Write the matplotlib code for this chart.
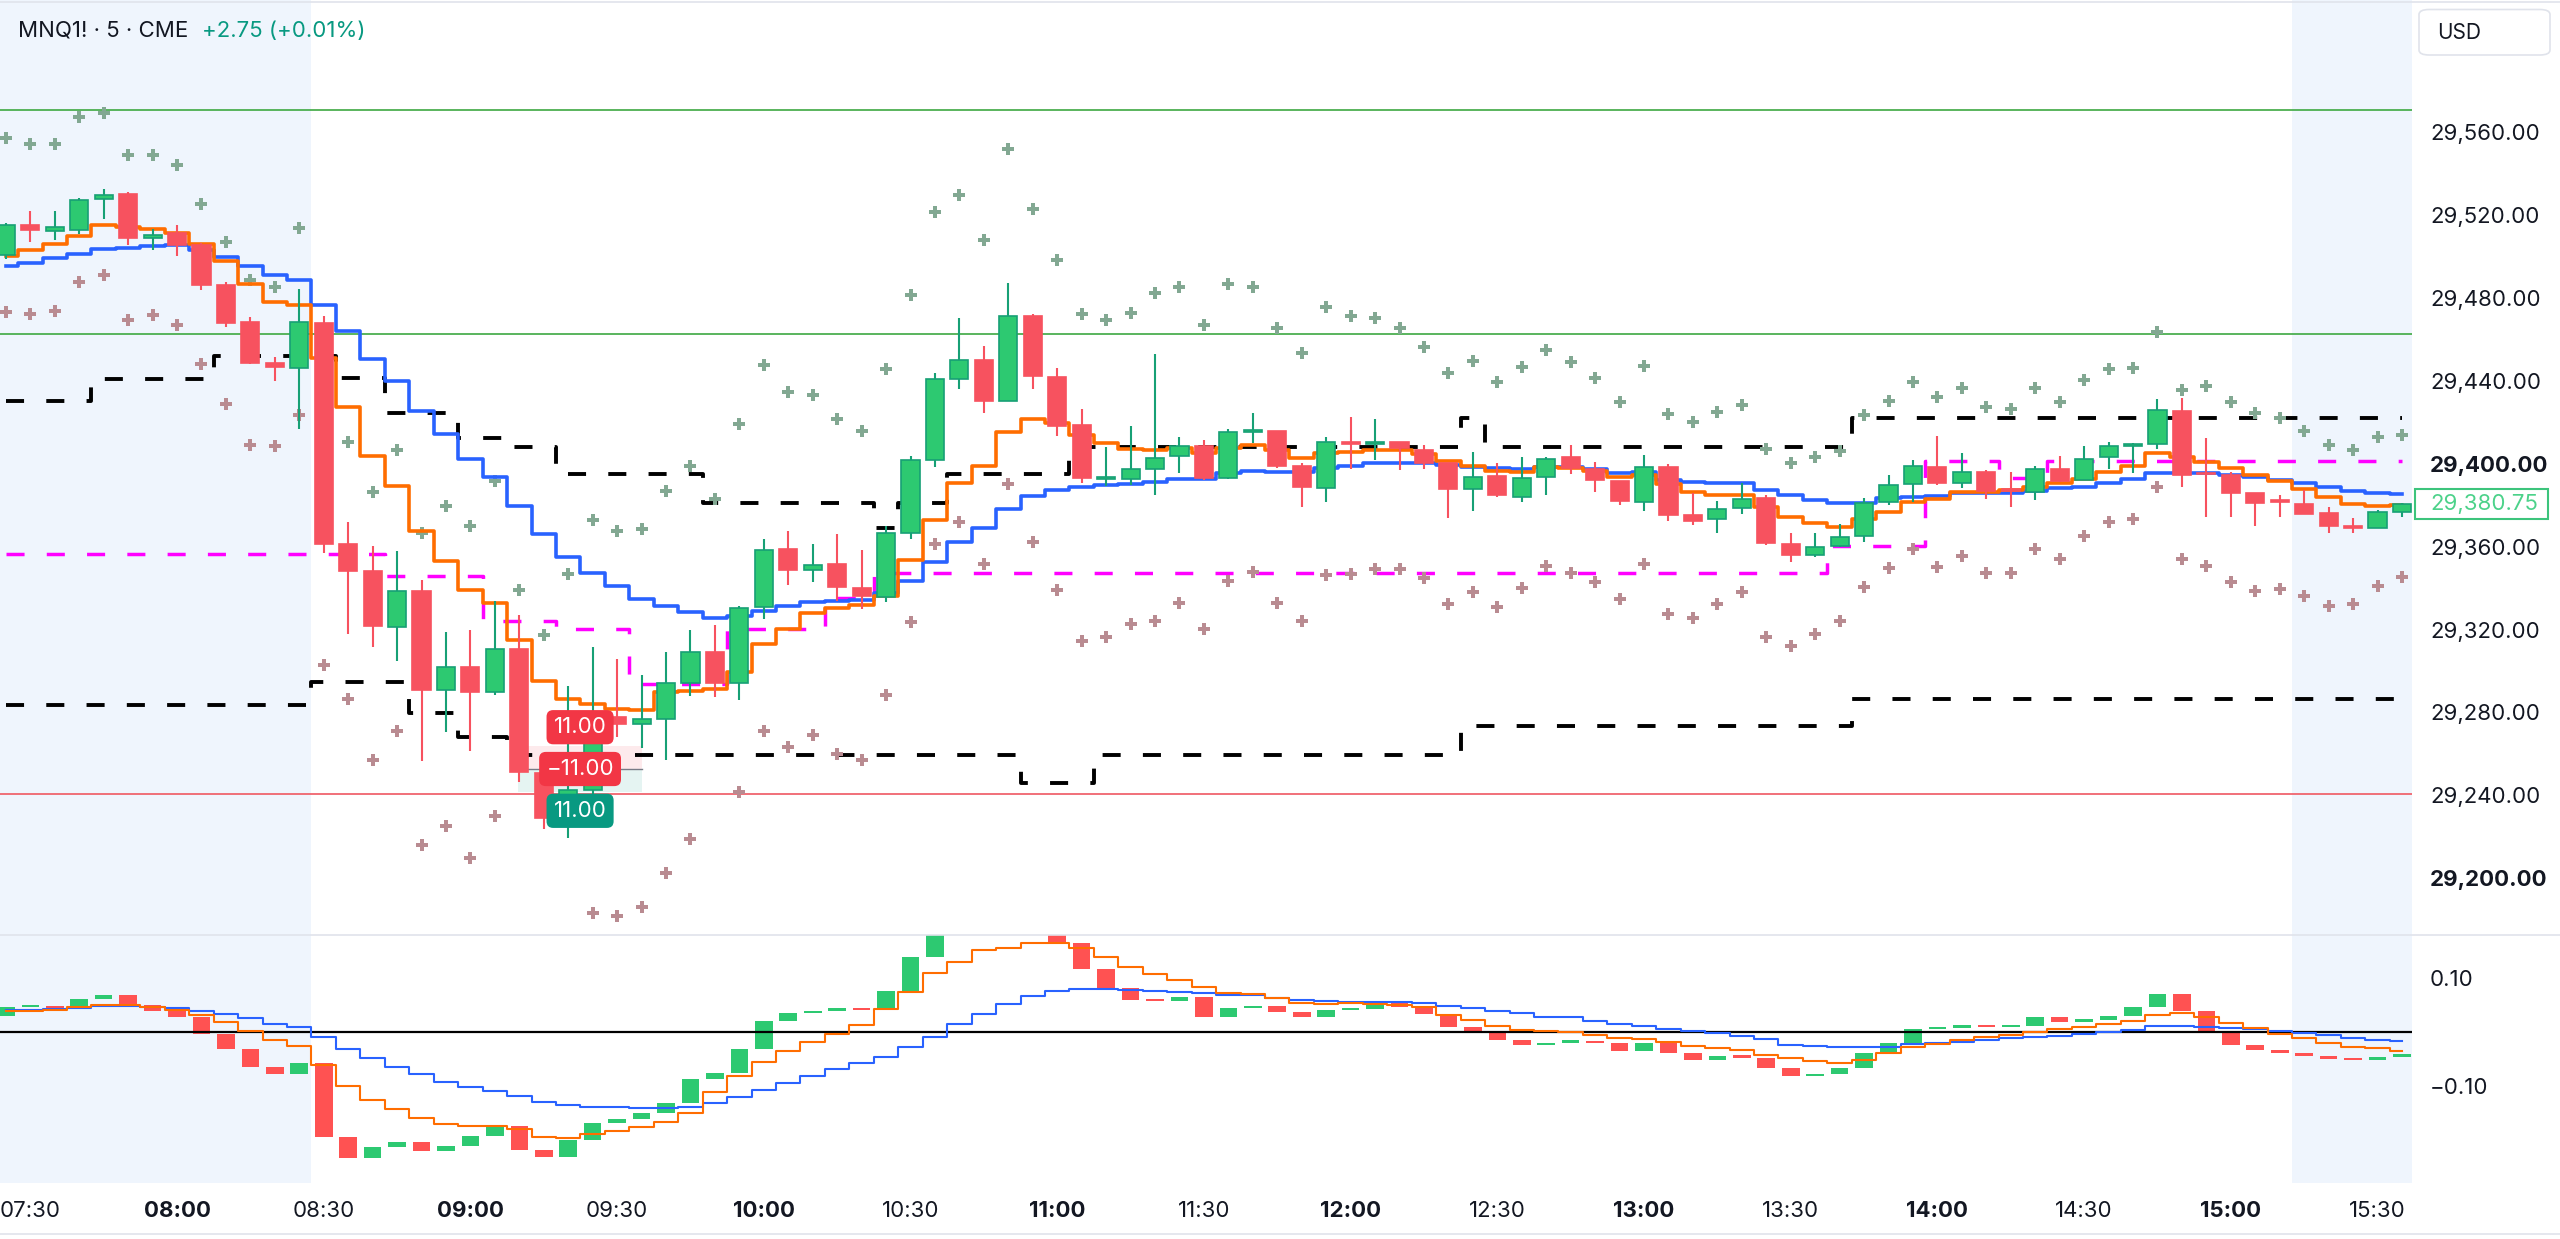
import numpy as np
import matplotlib
matplotlib.use("Agg")
import matplotlib.pyplot as plt
from matplotlib.patches import Rectangle, FancyBboxPatch
from matplotlib.lines import Line2D

plt.rcParams['font.family'] = ['Inter', 'DejaVu Sans']
plt.rcParams['lines.scale_dashes'] = False

# 5 minute bars, index 0 = 07:30 (first visible bar is 07:25)
bars = np.arange(-1, 98)

opens = [29500.4, 29514.9, 29512.4, 29512.7, 29527.4, 29529.9, 29509.0, 29511.2, 29505.3, 29486.3,
         29468.1, 29448.5, 29446.0, 29467.6, 29361.3, 29348.1, 29321.2, 29338.5, 29291.0, 29302.0,
         29289.7, 29310.6, 29251.0, 29229.0, 29242.7, 29278.0, 29274.6, 29277.1, 29294.4, 29309.0,
         29294.4, 29330.9, 29359.0, 29348.9, 29351.6, 29340.1, 29335.5, 29366.6, 29401.9, 29440.9,
         29450.1, 29430.1, 29471.1, 29441.6, 29418.5, 29392.7, 29392.7, 29397.3, 29403.5, 29408.6,
         29393.2, 29415.3, 29415.8, 29399.0, 29388.5, 29410.6, 29409.5, 29410.6, 29406.6, 29400.2,
         29388.0, 29394.2, 29384.1, 29393.4, 29403.1, 29397.3, 29391.8, 29381.7, 29398.6, 29375.3,
         29373.2, 29378.8, 29383.3, 29361.3, 29356.0, 29360.3, 29365.1, 29381.7, 29390.1, 29398.6,
         29390.5, 29396.2, 29387.3, 29386.5, 29397.3, 29392.1, 29403.1, 29408.5, 29409.5, 29425.4,
         29395.0, 29394.5, 29386.0, 29381.7, 29380.4, 29376.1, 29370.0, 29369.2, 29376.6]
highs = [29516.1, 29521.8, 29521.8, 29527.9, 29532.6, 29531.1, 29513.2, 29514.9, 29506.3, 29487.8,
         29470.6, 29451.6, 29484.1, 29471.3, 29371.7, 29360.1, 29358.1, 29343.9, 29318.8, 29320.0,
         29334.0, 29327.2, 29252.5, 29292.8, 29311.4, 29305.7, 29298.0, 29309.2, 29319.8, 29322.1,
         29331.3, 29363.6, 29367.3, 29361.3, 29365.9, 29358.6, 29370.1, 29403.5, 29443.9, 29470.4,
         29456.6, 29487.1, 29472.1, 29446.2, 29426.6, 29408.1, 29418.1, 29453.1, 29412.8, 29411.6,
         29416.7, 29424.3, 29415.8, 29400.2, 29413.0, 29422.7, 29421.4, 29410.6, 29409.0, 29400.5,
         29405.8, 29400.2, 29403.1, 29403.1, 29409.0, 29401.0, 29391.8, 29404.2, 29399.7, 29386.0,
         29382.2, 29390.5, 29384.9, 29366.4, 29366.4, 29371.0, 29383.3, 29394.5, 29401.8, 29413.4,
         29405.3, 29397.0, 29396.2, 29398.9, 29403.7, 29408.5, 29410.6, 29410.1, 29431.0, 29431.8,
         29412.2, 29396.2, 29386.0, 29384.9, 29387.3, 29379.3, 29373.6, 29377.7, 29380.9]
lows = [29498.9, 29507.0, 29508.0, 29510.7, 29518.1, 29505.3, 29502.8, 29500.1, 29483.6, 29465.7,
        29448.0, 29440.1, 29416.5, 29356.9, 29318.0, 29311.4, 29304.7, 29256.5, 29270.8, 29261.4,
        29288.5, 29246.5, 29224.0, 29219.3, 29240.0, 29268.0, 29262.8, 29257.1, 29288.1, 29287.5,
        29285.9, 29325.1, 29341.3, 29342.9, 29333.6, 29329.7, 29333.2, 29363.6, 29398.2, 29435.8,
        29424.3, 29430.1, 29435.8, 29413.2, 29390.9, 29389.0, 29389.7, 29385.1, 29395.5, 29392.0,
        29392.7, 29409.8, 29397.8, 29379.3, 29381.4, 29397.3, 29401.8, 29397.0, 29397.3, 29374.0,
        29377.4, 29384.1, 29381.7, 29384.9, 29395.0, 29386.5, 29380.1, 29377.4, 29372.5, 29370.3,
        29366.4, 29375.7, 29360.8, 29352.8, 29354.8, 29359.7, 29362.4, 29380.1, 29381.7, 29389.7,
        29388.1, 29382.8, 29379.3, 29382.5, 29391.3, 29392.1, 29397.3, 29395.4, 29406.9, 29388.6,
        29374.1, 29374.1, 29369.9, 29374.5, 29375.6, 29366.7, 29366.7, 29369.2, 29374.1]
closes = [29514.9, 29512.7, 29513.9, 29527.2, 29529.6, 29509.0, 29510.5, 29505.3, 29486.3, 29467.6,
          29448.5, 29446.7, 29468.1, 29361.3, 29348.1, 29321.7, 29338.5, 29291.0, 29302.0, 29289.7,
          29310.6, 29251.2, 29229.0, 29242.7, 29277.0, 29274.5, 29277.1, 29294.4, 29309.0, 29294.4,
          29330.2, 29358.6, 29348.9, 29351.0, 29340.6, 29336.2, 29366.6, 29401.9, 29440.9, 29450.1,
          29430.1, 29471.1, 29442.3, 29418.1, 29393.2, 29393.6, 29397.3, 29402.8, 29408.6, 29393.2,
          29415.1, 29416.3, 29399.1, 29388.8, 29410.6, 29409.5, 29409.8, 29407.4, 29400.2, 29387.6,
          29393.4, 29384.7, 29392.9, 29402.1, 29397.8, 29392.1, 29382.2, 29398.6, 29375.3, 29372.5,
          29378.0, 29382.8, 29361.6, 29356.0, 29360.0, 29364.8, 29380.9, 29389.7, 29398.9, 29390.9,
          29396.2, 29387.0, 29386.8, 29397.3, 29391.8, 29402.1, 29408.5, 29409.3, 29425.9, 29394.5,
          29394.8, 29386.0, 29380.9, 29381.5, 29375.6, 29370.0, 29369.2, 29376.9, 29380.75]

ma_fast = [29500.1, 29503.1, 29505.8, 29510.0, 29514.9, 29513.9, 29513.2, 29511.4, 29505.8, 29497.9,
           29486.8, 29478.0, 29476.3, 29450.9, 29427.5, 29403.7, 29389.4, 29367.5, 29353.2, 29339.2,
           29332.8, 29315.1, 29295.4, 29286.3, 29284.3, 29281.9, 29281.3, 29289.8, 29290.3, 29291.2,
           29299.7, 29312.9, 29320.5, 29328.1, 29330.4, 29332.0, 29336.0, 29353.5, 29372.9, 29390.9,
           29398.9, 29415.1, 29421.3, 29419.7, 29413.9, 29409.8, 29407.0, 29406.5, 29407.5, 29405.2,
           29407.5, 29408.8, 29406.6, 29402.9, 29405.0, 29405.8, 29406.6, 29406.6, 29404.7, 29401.5,
           29399.1, 29396.6, 29396.2, 29398.2, 29397.8, 29396.6, 29393.7, 29394.5, 29390.2, 29386.5,
           29384.9, 29384.9, 29378.9, 29374.4, 29371.6, 29369.6, 29373.2, 29376.6, 29381.7, 29383.0,
           29386.2, 29386.5, 29387.3, 29388.9, 29390.5, 29392.5, 29395.8, 29399.1, 29405.3, 29403.4,
           29401.0, 29398.1, 29394.6, 29391.4, 29387.6, 29383.8, 29380.6, 29379.8, 29380.1]
ma_slow = [29495.2, 29496.7, 29499.1, 29500.9, 29503.3, 29504.1, 29505.0, 29505.3, 29502.8, 29499.6,
           29495.2, 29491.0, 29488.6, 29476.3, 29463.9, 29450.4, 29439.8, 29425.3, 29414.3, 29402.4,
           29393.8, 29379.8, 29366.3, 29355.0, 29347.1, 29340.9, 29334.8, 29331.3, 29328.6, 29325.8,
           29326.7, 29329.0, 29331.3, 29333.2, 29333.6, 29334.1, 29337.8, 29343.6, 29352.8, 29362.0,
           29369.0, 29378.2, 29384.4, 29387.4, 29388.6, 29389.5, 29390.4, 29391.3, 29392.7, 29392.7,
           29395.5, 29396.5, 29396.2, 29396.2, 29397.8, 29398.9, 29400.2, 29400.5, 29400.5, 29399.4,
           29398.6, 29397.8, 29397.3, 29398.6, 29398.6, 29397.3, 29395.7, 29396.2, 29392.1, 29391.3,
           29390.9, 29390.5, 29387.3, 29384.9, 29382.5, 29380.9, 29380.9, 29383.3, 29383.8, 29384.4,
           29385.7, 29385.7, 29385.7, 29387.0, 29388.1, 29388.9, 29390.5, 29392.4, 29395.7, 29395.7,
           29395.3, 29394.5, 29393.4, 29392.1, 29390.5, 29388.9, 29387.0, 29386.0, 29385.2]

nan = float('nan')
band_up = [29556.9, 29554.0, 29554.0, 29567.4, 29569.3, 29549.0, 29548.9, 29543.8, 29525.3, 29507.0,
           29488.6, 29485.0, 29513.8, nan, 29410.6, 29386.4, 29406.6, 29366.8, 29379.5, 29369.7,
           29391.4, 29339.0, 29317.2, 29346.8, 29372.9, 29367.5, 29368.5, 29386.7, 29398.9, 29383.2,
           29419.0, 29447.4, 29434.7, 29433.1, 29421.5, 29415.8, 29445.8, 29481.5, 29521.2, 29529.7,
           29508.0, 29551.9, 29523.0, 29498.1, 29472.1, 29469.3, 29472.7, 29482.4, 29485.0, 29467.0,
           29486.6, 29485.0, 29465.3, 29453.6, 29475.7, 29471.4, 29470.1, 29465.3, 29456.1, 29443.6,
           29449.7, 29439.6, 29446.8, 29454.8, 29449.2, 29441.5, 29429.9, 29447.3, 29424.0, 29420.0,
           29424.8, 29428.3, 29406.9, 29400.2, 29403.4, 29406.3, 29423.3, 29430.4, 29439.6, 29432.0,
           29436.7, 29427.2, 29426.4, 29436.7, 29429.9, 29440.4, 29445.5, 29446.0, 29463.4, 29435.5,
           29437.6, 29429.9, 29424.3, 29422.2, 29415.8, 29409.0, 29406.6, 29413.0, 29413.8]
band_dn = [29473.3, 29472.1, 29473.8, 29487.8, 29491.0, 29469.4, 29471.8, 29467.1, 29448.0, 29428.8,
           29409.1, 29408.6, 29423.4, 29302.8, 29286.3, 29257.3, 29271.3, 29215.9, 29225.3, 29209.8,
           29230.2, nan, nan, nan, 29183.5, 29182.0, 29186.4, 29202.8, 29219.2, nan,
           29241.6, 29270.9, 29263.3, 29269.1, 29260.1, 29257.1, 29288.2, 29323.5, 29361.3, 29371.7,
           29351.6, 29390.4, 29362.3, 29338.9, 29314.7, 29316.6, 29322.8, 29323.9, 29332.7, 29320.5,
           29343.6, 29347.8, 29332.7, 29324.2, 29346.3, 29346.6, 29349.1, 29349.1, 29344.7, 29332.3,
           29338.0, 29330.7, 29340.2, 29350.7, 29347.5, 29343.1, 29334.8, 29351.5, 29327.5, 29325.4,
           29332.2, 29338.3, 29316.3, 29312.1, 29317.7, 29324.1, 29340.4, 29349.6, 29358.7, 29350.0,
           29355.6, 29347.4, 29347.4, 29358.7, 29353.9, 29365.3, 29372.0, 29373.3, 29388.9, 29354.0,
           29350.8, 29343.1, 29338.6, 29339.4, 29336.2, 29331.4, 29332.4, 29341.2, 29345.2]

chan_top = ([29430.0] * 4 + [29441.0] * 5 + [29452.0] * 5 + [29441.5] * 2 + [29424.5] * 3 +
            [29412.3] * 2 + [29408.0] * 2 + [29395.0] * 6 + [29381.0] * 7 + [29369.0] +
            [29381.0] * 2 + [29395.0] * 5 + [29408.2] * 16 + [29422.0] + [29408.2] * 15 +
            [29421.8] * 23)
chan_bot = ([29283.6] * 13 + [29294.6] * 4 + [29279.9] * 2 + [29268.3] * 2 + [29259.4] * 21 +
            [29246.0] * 3 + [29259.4] * 15 + [29273.6] * 16 + [29286.5] * 23)
mid_line = ([29356.4] * 16 + [29345.8] * 4 + [29324.0] * 3 + [29320.3] * 3 + [29293.9] * 4 +
            [29320.5] * 4 + [29335.0] * 2 + [29347.5] * 39 + [29360.5] * 4 + [29401.3] * 3 +
            [29393.0] * 2 + [29401.3] * 15)

levels_green = [29570.6, 29462.4]
levels_red = [29240.7]

# short position tool: entry and +/- 11 points
entry_price = 29252.75
risk_pts = 11.0
tool_bars = (19.95, 25.02)

# lower pane, first value belongs to 07:20
osc_hist = [0.0300, 0.0463, 0.0487, 0.0436, 0.0611, 0.0685, 0.0505, 0.0400, 0.0289, -0.0032, -0.0316,
            -0.0649, -0.0772, -0.0574, -0.1932, -0.2321, -0.2130, -0.2025, -0.2198, -0.2105, -0.1914,
            -0.1735, -0.2180, -0.2303, -0.1994, -0.1673, -0.1612, -0.1488, -0.1315, -0.0871, -0.0747,
            -0.0309, 0.0216, 0.0352, 0.0401, 0.0438, 0.0414, 0.0771, 0.1400, 0.1950, 0.2100,
            0.2000, 0.2200, 0.2050, 0.1648, 0.1167, 0.0815, 0.0600, 0.0580, 0.0660, 0.0289,
            0.0444, 0.0489, 0.0382, 0.0277, 0.0412, 0.0437, 0.0549, 0.0475, 0.0339, 0.0105,
            0.0005, -0.0143, -0.0235, -0.0192, -0.0179, -0.0204, -0.0340, -0.0192, -0.0377, -0.0513,
            -0.0439, -0.0470, -0.0667, -0.0809, -0.0772, -0.0667, -0.0389, -0.0204, 0.0055, 0.0086,
            0.0115, 0.0100, 0.0123, 0.0277, 0.0197, 0.0221, 0.0302, 0.0462, 0.0702, 0.0401,
            0.0011, -0.0235, -0.0328, -0.0377, -0.0439, -0.0500, -0.0513, -0.0451, -0.0414]
osc_fast = [0.0400, 0.0400, 0.0412, 0.0462, 0.0499, 0.0505, 0.0474, 0.0412, 0.0320, 0.0197,
            0.0031, -0.0142, -0.0253, -0.0605, -0.0988, -0.1253, -0.1420, -0.1593, -0.1704, -0.1728,
            -0.1728, -0.1796, -0.1932, -0.1963, -0.1883, -0.1827, -0.1759, -0.1660, -0.1488, -0.1099,
            -0.0802, -0.0544, -0.0339, -0.0173, -0.0031, 0.0136, 0.0425, 0.0752, 0.1105, 0.1309,
            0.1525, 0.1556, 0.1660, 0.1660, 0.1556, 0.1389, 0.1204, 0.1074, 0.0969, 0.0833,
            0.0722, 0.0709, 0.0629, 0.0549, 0.0524, 0.0536, 0.0524, 0.0506, 0.0462, 0.0321,
            0.0228, 0.0117, 0.0043, 0.0031, 0.0012, -0.0049, -0.0111, -0.0129, -0.0173, -0.0253,
            -0.0296, -0.0327, -0.0420, -0.0481, -0.0525, -0.0562, -0.0512, -0.0377, -0.0266, -0.0216,
            -0.0142, -0.0093, -0.0049, 0.0012, 0.0068, 0.0105, 0.0149, 0.0216, 0.0321, 0.0352,
            0.0277, 0.0179, 0.0074, -0.0031, -0.0111, -0.0204, -0.0266, -0.0296, -0.0340]
osc_slow = [0.0412, 0.0412, 0.0424, 0.0455, 0.0486, 0.0486, 0.0474, 0.0443, 0.0400, 0.0338,
            0.0258, 0.0153, 0.0091, -0.0093, -0.0309, -0.0482, -0.0636, -0.0772, -0.0914, -0.1006,
            -0.1080, -0.1173, -0.1284, -0.1346, -0.1377, -0.1389, -0.1407, -0.1407, -0.1377, -0.1315,
            -0.1192, -0.1068, -0.0933, -0.0803, -0.0685, -0.0574, -0.0451, -0.0278, -0.0080, 0.0148,
            0.0340, 0.0519, 0.0673, 0.0765, 0.0809, 0.0796, 0.0784, 0.0765, 0.0753, 0.0722,
            0.0691, 0.0685, 0.0642, 0.0598, 0.0580, 0.0567, 0.0567, 0.0567, 0.0549, 0.0487,
            0.0443, 0.0400, 0.0351, 0.0289, 0.0277, 0.0216, 0.0154, 0.0117, 0.0061, 0.0024,
            -0.0019, -0.0068, -0.0118, -0.0235, -0.0253, -0.0278, -0.0278, -0.0266, -0.0223, -0.0204,
            -0.0179, -0.0142, -0.0111, -0.0080, -0.0068, -0.0031, 0.0012, 0.0043, 0.0117, 0.0123,
            0.0105, 0.0080, 0.0055, 0.0024, -0.0007, -0.0056, -0.0111, -0.0142, -0.0161]

time_ticks = list(range(0, 97, 6))
time_labels = ['07:30', '08:00', '08:30', '09:00', '09:30', '10:00', '10:30', '11:00', '11:30',
               '12:00', '12:30', '13:00', '13:30', '14:00', '14:30', '15:00', '15:30']
price_ticks = list(range(29200, 29561, 40))
osc_ticks = [0.10, -0.10]
session_edges = (11.5, 92.5)

# colours
TXT = '#131722'
UP_FILL, UP_EDGE = '#2DC971', '#17A075'
DN_FILL, DN_EDGE = '#F7525F', '#F7525F'
SHADE = '#EFF5FD'
FS = 16

W, H = 2560.0, 1239.0


def fx(px):
    return px / W


def fy(py):
    return 1 - py / H


fig = plt.figure(figsize=(25.6, 12.39), dpi=100)
fig.patch.set_facecolor('white')
ax = fig.add_axes([0, fy(935), fx(2412), fy(0) - fy(935)])
ax2 = fig.add_axes([0, fy(1183), fx(2412), fy(935) - fy(1183)])

xlim = (-1.24, 97.41)
for a in (ax, ax2):
    a.set_xlim(*xlim)
    for s in a.spines.values():
        s.set_visible(False)
    a.axvspan(xlim[0] - 1, session_edges[0], color=SHADE, lw=0, zorder=0)
    a.axvspan(session_edges[1], xlim[1] + 1, color=SHADE, lw=0, zorder=0)
    a.yaxis.tick_right()
    a.tick_params(axis='both', length=0, labelsize=FS, labelcolor=TXT)

ax.set_ylim(29172.7, 29623.6)
ax2.set_ylim(-0.279, 0.180)

# ---- main pane ----
for lv in levels_green:
    ax.axhline(lv, color='#4CAF50', lw=1.3, zorder=1)
for lv in levels_red:
    ax.axhline(lv, color='#F0646E', lw=1.3, zorder=1)

x0, x1 = tool_bars
ax.add_patch(Rectangle((x0, entry_price), x1 - x0, risk_pts, facecolor='#F23645',
                       alpha=0.10, lw=0, zorder=1.5))
ax.add_patch(Rectangle((x0, entry_price - risk_pts), x1 - x0, risk_pts, facecolor='#089981',
                       alpha=0.10, lw=0, zorder=1.5))
ax.plot([x0, x1], [entry_price, entry_price], color='#787B86', lw=1.0, zorder=1.6)

ax.step(bars, chan_top, where='mid', color='black', lw=2.8, dashes=(13, 16), zorder=2)
ax.step(bars, chan_bot, where='mid', color='black', lw=2.8, dashes=(13, 16), zorder=2)
ax.step(bars, mid_line, where='mid', color='#FF00FF', lw=2.5, dashes=(13, 16), zorder=2)

ax.plot(bars, band_up, ls='none', marker='P', ms=8.5, mew=0, color='#82A892', zorder=2.5)
ax.plot(bars, band_dn, ls='none', marker='P', ms=8.5, mew=0, color='#B98B91', zorder=2.5)

ax.step(bars, ma_slow, where='mid', color='#2962FF', lw=2.6, zorder=3)
ax.step(bars, ma_fast, where='mid', color='#FF6D00', lw=2.6, zorder=3)

o = np.array(opens)
h = np.array(highs)
l = np.array(lows)
c = np.array(closes)
up = c >= o
body_lo = np.minimum(o, c)
body_h = np.maximum(np.abs(c - o), 0.9)
ax.vlines(bars[up], l[up], h[up], color=UP_EDGE, lw=1.5, zorder=4)
ax.vlines(bars[~up], l[~up], h[~up], color=DN_EDGE, lw=1.5, zorder=4)
ax.bar(bars[up], body_h[up], bottom=body_lo[up], width=0.74, color=UP_FILL,
       edgecolor=UP_EDGE, linewidth=1.2, zorder=4.5)
ax.bar(bars[~up], body_h[~up], bottom=body_lo[~up], width=0.74, color=DN_FILL,
       edgecolor=DN_EDGE, linewidth=1.2, zorder=4.5)

tool_mid = (x0 + x1) / 2
lab_kw = dict(textcoords='offset pixels', ha='center', va='center', fontsize=FS,
              color='white', zorder=7)
ax.annotate('11.00', (tool_mid, entry_price + risk_pts), xytext=(0, 19),
            bbox=dict(boxstyle='round,pad=0.32,rounding_size=0.3', fc='#F23645', ec='none'),
            **lab_kw)
ax.annotate('\u221211.00', (tool_mid, entry_price), xytext=(0, 0),
            bbox=dict(boxstyle='round,pad=0.32,rounding_size=0.3', fc='#F23645', ec='none'),
            **lab_kw)
ax.annotate('11.00', (tool_mid, entry_price - risk_pts), xytext=(0, -19),
            bbox=dict(boxstyle='round,pad=0.32,rounding_size=0.3', fc='#089981', ec='none'),
            **lab_kw)

ax.set_xticks([])
ax.set_yticks(price_ticks)
ax.set_yticklabels([f'{p:,.2f}' for p in price_ticks])
ax.tick_params(axis='y', pad=13)
for t, p in zip(ax.get_yticklabels(), price_ticks):
    if p % 200 == 0:
        t.set_fontweight('bold')

# ---- lower pane ----
hist = np.array(osc_hist)
prev, cur = hist[:-1], hist[1:]
rise = cur >= prev
lo = np.minimum(prev, cur)
hh = np.maximum(np.abs(cur - prev), 0.004)
ax2.bar(bars[rise], hh[rise], bottom=lo[rise], width=0.72, color='#2DC971', lw=0, zorder=2)
ax2.bar(bars[~rise], hh[~rise], bottom=lo[~rise], width=0.72, color='#FF5252', lw=0, zorder=2)
ax2.axhline(0, color='black', lw=1.6, zorder=3)
ax2.step(bars, osc_slow, where='mid', color='#2962FF', lw=1.5, zorder=3)
ax2.step(bars, osc_fast, where='mid', color='#FF6D00', lw=1.5, zorder=3)

ax2.set_yticks(osc_ticks)
ax2.set_yticklabels([f'{v:.2f}'.replace('-', '\u2212') for v in osc_ticks])
ax2.tick_params(axis='y', pad=13)
ax2.set_xticks(time_ticks)
ax2.set_xticklabels(time_labels)
ax2.tick_params(axis='x', pad=13)
for t, lab in zip(ax2.get_xticklabels(), time_labels):
    if lab.endswith(':00'):
        t.set_fontweight('bold')

# ---- frame, header, tags ----
for py in (2, 935, 1234):
    fig.add_artist(Line2D([0, 1], [fy(py), fy(py)], transform=fig.transFigure,
                          color='#E0E3EB', lw=1.2))

t1 = fig.text(fx(18), fy(31), 'MNQ1! \u00b7 5 \u00b7 CME', fontsize=FS, color=TXT,
              ha='left', va='center')
fig.canvas.draw()
bb = t1.get_window_extent()
fig.text((bb.x1 + 14) / W, fy(31), '+2.75 (+0.01%)', fontsize=FS, color='#089981',
         ha='left', va='center')

fig.add_artist(FancyBboxPatch((fx(2419), fy(55)), fx(2550) - fx(2419), fy(9.5) - fy(55),
                              boxstyle='round,pad=0,rounding_size=0.004',
                              transform=fig.transFigure, fc='white', ec='#E0E3EB', lw=1.2))
fig.text(fx(2437), fy(33), 'USD', fontsize=FS - 1, color=TXT, ha='left', va='center')

yd = ax.transData.transform((0, closes[-1]))[1] / H
fig.add_artist(Rectangle((fx(2415), yd - 15 / H), fx(2548) - fx(2415), 30 / H,
                         transform=fig.transFigure, fc='white', ec='#3CC47C', lw=1.5))
fig.text(fx(2430), yd, f'{closes[-1]:,.2f}', fontsize=FS, color='#4CD28A',
         ha='left', va='center')

fig.savefig('out.png', dpi=100)
